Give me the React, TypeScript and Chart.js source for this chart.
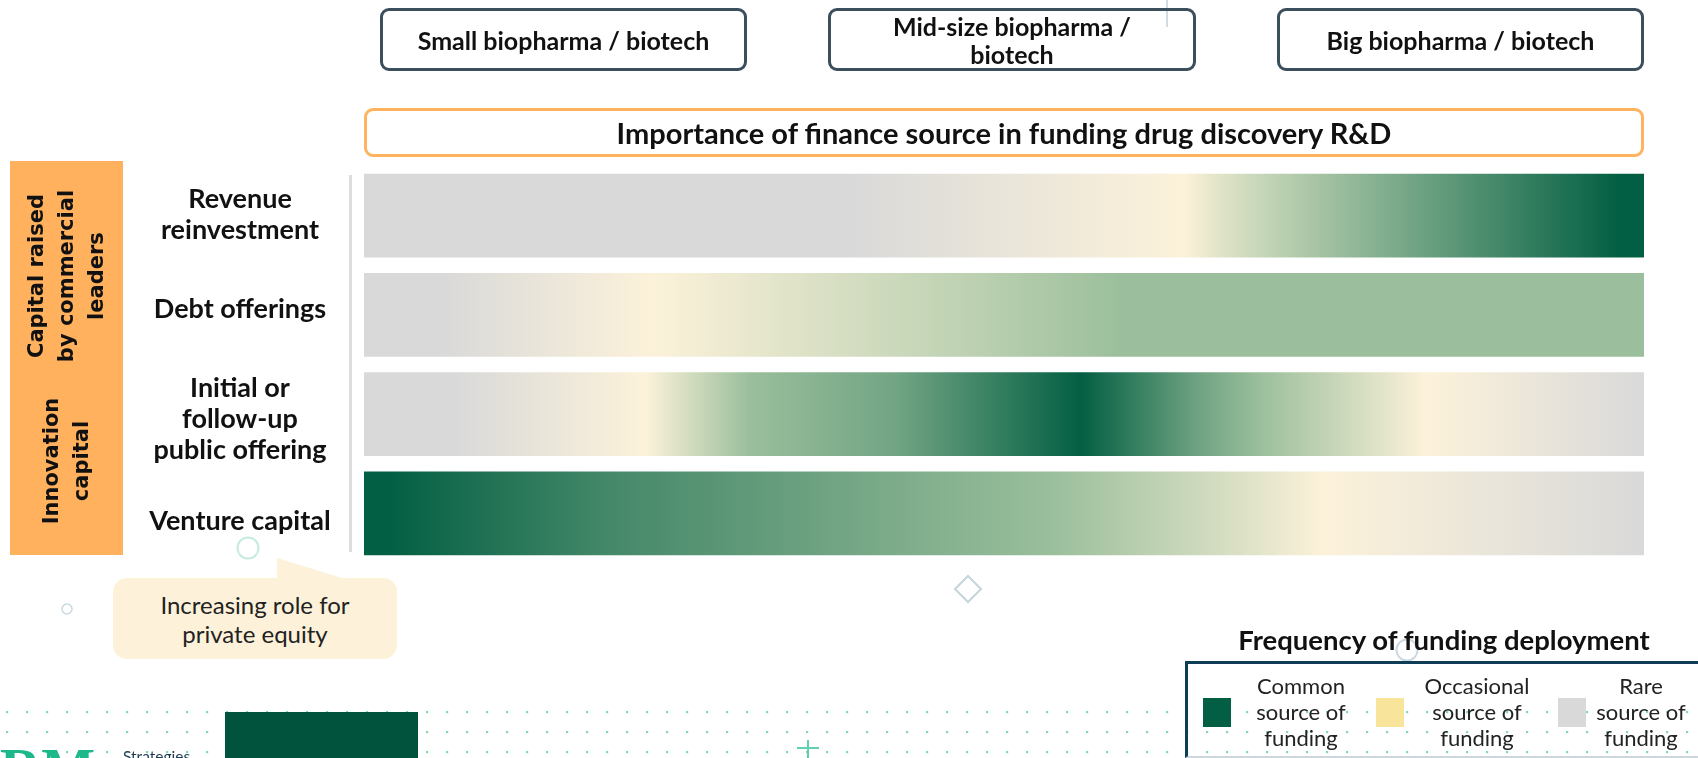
import React, { useEffect, useRef } from "react";
import { Chart, registerables } from "chart.js";

Chart.register(...registerables);

const W = 1698;
const H = 758;

// Rows of the heat-strip chart
const rowLabels: string[][] = [
  ["Revenue", "reinvestment"],
  ["Debt offerings"],
  ["Initial or", "follow-up", "public offering"],
  ["Venture capital"],
];
const barSpan = [100, 100, 100, 100];

// Position along the company-size continuum (0 = smallest, 100 = biggest)
// and frequency level at that position (0 rare, 1 occasional, 2 frequent, 3 common)
const revenueStops = [0, 38, 64, 67, 72, 83, 98, 100];
const revenueLevels = [0, 0, 1, 1.3, 1.7, 2.32, 3, 3];
const debtStops = [0, 6, 22.5, 35, 48, 59, 100];
const debtLevels = [0, 0, 1, 1.33, 1.67, 2, 2];
const ipoStops = [0, 7, 22, 30, 41.5, 56, 65, 70, 83, 100];
const ipoLevels = [0, 0, 1, 2, 2.27, 3, 2.3, 2, 1, 0];
const vcStops = [0, 2, 19, 41.5, 54, 69, 75, 100];
const vcLevels = [3, 3, 2.57, 2.2, 2, 1.31, 1, 0];

const levelColors = ["#d9d9d9", "#fcf2da", "#9bbf9c", "#035f43"];

const segmentLabels = [
  ["Small biopharma / biotech"],
  ["Mid-size biopharma /", "biotech"],
  ["Big biopharma / biotech"],
];
const chartTitle = "Importance of finance source in funding drug discovery R&D";
const groupLabels = [
  ["Capital raised", "by commercial", "leaders"],
  ["Innovation", "capital"],
];
const calloutLines = ["Increasing role for", "private equity"];
const legendTitle = "Frequency of funding deployment";
const legendItems = [
  ["Common", "source of", "funding"],
  ["Occasional", "source of", "funding"],
  ["Rare", "source of", "funding"],
];
const legendColors = ["#035f43", "#f8e59b", "#d9d9d9"];

const rowStops = [revenueStops, debtStops, ipoStops, vcStops];
const rowLevels = [revenueLevels, debtLevels, ipoLevels, vcLevels];

// small vertical nudges of the row captions relative to the bar centres (px)
const labelNudge = [-1, -6, 5, 8];

function hexRgb(h: string) {
  const n = parseInt(h.slice(1), 16);
  return [(n >> 16) & 255, (n >> 8) & 255, n & 255];
}
function levelColor(v: number) {
  const i = Math.max(0, Math.min(Math.floor(v), levelColors.length - 2));
  const t = Math.max(0, Math.min(1, v - i));
  const a = hexRgb(levelColors[i]);
  const b = hexRgb(levelColors[i + 1]);
  const c = a.map((x, k) => Math.round(x + (b[k] - x) * t));
  return `rgb(${c[0]},${c[1]},${c[2]})`;
}

const rowLabelPlugin = {
  id: "rowLabelPlugin",
  afterDraw(chart: any) {
    const ys = chart.scales.y;
    const ctx = chart.ctx;
    ctx.save();
    ctx.font = "bold 27px Lato";
    ctx.fillStyle = "#111";
    ctx.textAlign = "center";
    ctx.textBaseline = "middle";
    const lh = 31;
    const cx = chart.chartArea.left - 124;
    rowLabels.forEach((lines, i) => {
      const cy = ys.getPixelForValue(i) + labelNudge[i];
      lines.forEach((l, k) => ctx.fillText(l, cx, cy + (k - (lines.length - 1) / 2) * lh));
    });
    ctx.restore();
  },
};

const headerBoxes = [
  { left: 380, width: 367 },
  { left: 828, width: 368 },
  { left: 1277, width: 367 },
];

export default function App() {
  const ref = useRef<HTMLCanvasElement | null>(null);

  useEffect(() => {
    if (!ref.current) return;
    const chart = new Chart(ref.current, {
      type: "bar",
      data: {
        labels: rowLabels.map((l) => l.join(" ")),
        datasets: [
          {
            data: barSpan,
            borderWidth: 0,
            barPercentage: 1,
            categoryPercentage: 0.845,
            backgroundColor: (ctx: any) => {
              const ch = ctx.chart;
              const i = ctx.dataIndex;
              if (!ch.chartArea || i === undefined) return levelColors[0];
              const xs = ch.scales.x;
              const x0 = xs.getPixelForValue(0);
              const x1 = xs.getPixelForValue(100);
              const g = ch.ctx.createLinearGradient(x0, 0, x1, 0);
              const stops = rowStops[i];
              const lv = rowLevels[i];
              stops.forEach((p: number, k: number) => {
                const off = (xs.getPixelForValue(p) - x0) / (x1 - x0);
                g.addColorStop(Math.max(0, Math.min(1, off)), levelColor(lv[k]));
              });
              return g;
            },
          },
        ],
      },
      options: {
        indexAxis: "y",
        responsive: false,
        animation: false,
        events: [],
        devicePixelRatio: 1,
        layout: { padding: { top: 166, bottom: H - 563, left: 364, right: W - 1644 } },
        scales: {
          x: { min: 0, max: 100, display: false },
          y: { display: false },
        },
        plugins: { legend: { display: false }, tooltip: { enabled: false } },
      },
      plugins: [rowLabelPlugin],
    } as any);
    return () => chart.destroy();
  }, []);

  const dots: JSX.Element[] = [];
  [712, 732, 752].forEach((y) => {
    for (let x = 7; x < W; x += 20) {
      dots.push(<rect key={`${x}-${y}`} x={x - 1} y={y - 1} width={2.2} height={2.2} fill="#84d6b8" />);
    }
  });

  const abs: React.CSSProperties = { position: "absolute", boxSizing: "border-box" };

  return (
    <div
      style={{
        position: "absolute",
        left: 0,
        top: 0,
        width: W,
        height: H,
        overflow: "hidden",
        background: "#fff",
        fontFamily: "Lato, 'Open Sans', sans-serif",
        color: "#111",
      }}
    >
      <canvas ref={ref} width={W} height={H} style={{ position: "absolute", left: 0, top: 0, width: W, height: H }} />
      <svg width={W} height={H} style={{ position: "absolute", left: 0, top: 0 }}>
        {dots}
        <rect x={225} y={712} width={193} height={46} fill="#02533d" />
        <circle cx={248} cy={548} r={10.5} fill="none" stroke="#c6ebdf" strokeWidth={2} />
        <circle cx={67} cy={609} r={5} fill="none" stroke="#c8d9e0" strokeWidth={1.5} />
        <circle cx={1407} cy={650} r={10.5} fill="none" stroke="#cdd9e0" strokeWidth={2} />
        <polygon points="968,576 981,589 968,602 955,589" fill="none" stroke="#c5d5dc" strokeWidth={2} />
        <line x1={1167} y1={0} x2={1167} y2={27} stroke="#c3d0d8" strokeWidth={1.5} />
        <line x1={808} y1={740} x2={808} y2={758} stroke="#5fd0b0" strokeWidth={2} />
        <line x1={797} y1={748} x2={819} y2={748} stroke="#5fd0b0" strokeWidth={2} />
        <polygon points="277,558 277,581 352,581" fill="#fdf2d9" />
        <rect x={349} y={175} width={3} height={377} fill="#dddddd" />
      </svg>

      {segmentLabels.map((lines, i) => (
        <div
          key={i}
          style={{
            ...abs,
            left: headerBoxes[i].left,
            top: 8,
            width: headerBoxes[i].width,
            height: 63,
            border: "3px solid #3a4e5b",
            borderRadius: 9,
            display: "flex",
            alignItems: "center",
            justifyContent: "center",
            textAlign: "center",
            fontWeight: 700,
            fontSize: 25,
            lineHeight: "28px",
            whiteSpace: "nowrap",
          }}
        >
          <div>
            {lines.map((l, k) => (
              <div key={k}>{l}</div>
            ))}
          </div>
        </div>
      ))}

      <div
        style={{
          ...abs,
          left: 364,
          top: 108,
          width: 1280,
          height: 49,
          border: "3px solid #ffb35e",
          borderRadius: 9,
          display: "flex",
          alignItems: "center",
          justifyContent: "center",
          fontWeight: 700,
          fontSize: 29,
          whiteSpace: "nowrap",
        }}
      >
        {chartTitle}
      </div>

      <div style={{ ...abs, left: 10, top: 161, width: 113, height: 394, background: "#ffb15e" }} />
      {groupLabels.map((lines, i) => (
        <div
          key={i}
          style={{
            position: "absolute",
            left: 66,
            top: i === 0 ? 276 : 461,
            transform: "translate(-50%, -50%) rotate(-90deg)",
            whiteSpace: "nowrap",
            textAlign: "center",
            fontFamily: "'DejaVu Sans', sans-serif",
            fontWeight: 700,
            fontSize: 21,
            lineHeight: "30px",
            color: "#111",
          }}
        >
          {lines.map((l, k) => (
            <div key={k}>{l}</div>
          ))}
        </div>
      ))}

      <div
        style={{
          ...abs,
          left: 113,
          top: 578,
          width: 284,
          height: 81,
          background: "#fdf2d9",
          borderRadius: 14,
          display: "flex",
          alignItems: "center",
          justifyContent: "center",
          textAlign: "center",
          fontSize: 24,
          lineHeight: "29px",
          color: "#222",
          whiteSpace: "nowrap",
        }}
      >
        <div>
          {calloutLines.map((l, k) => (
            <div key={k}>{l}</div>
          ))}
        </div>
      </div>

      <div
        style={{
          ...abs,
          left: 1144,
          top: 624,
          width: 600,
          textAlign: "center",
          fontWeight: 700,
          fontSize: 27.5,
          lineHeight: "32px",
          whiteSpace: "nowrap",
        }}
      >
        {legendTitle}
      </div>

      <div
        style={{
          ...abs,
          left: 1185,
          top: 661,
          width: 700,
          height: 97,
          borderTop: "3px solid #0f3c57",
          borderLeft: "3px solid #0f3c57",
          borderBottom: "2px solid #cdd6dc",
        }}
      />
      {legendItems.map((lines, i) => {
        const sx = [1203, 1376, 1558][i];
        const cx = [1301, 1477, 1641][i];
        return (
          <React.Fragment key={i}>
            <div style={{ ...abs, left: sx, top: 698, width: 28, height: 29, background: legendColors[i] }} />
            <div
              style={{
                ...abs,
                left: cx - 70,
                top: 673,
                width: 140,
                textAlign: "center",
                fontSize: 22,
                lineHeight: "26px",
                color: "#222",
                whiteSpace: "nowrap",
              }}
            >
              {lines.map((l, k) => (
                <div key={k}>{l}</div>
              ))}
            </div>
          </React.Fragment>
        );
      })}

      <div
        style={{
          position: "absolute",
          left: 0,
          top: 740,
          fontFamily: "'Liberation Serif', serif",
          fontWeight: 700,
          fontSize: 57,
          lineHeight: "57px",
          color: "#1db98a",
        }}
      >
        RM
      </div>
      <div style={{ position: "absolute", left: 123, top: 749, fontSize: 15.5, lineHeight: "15px", color: "#1d3b52" }}>
        Strategies
      </div>
    </div>
  );
}
